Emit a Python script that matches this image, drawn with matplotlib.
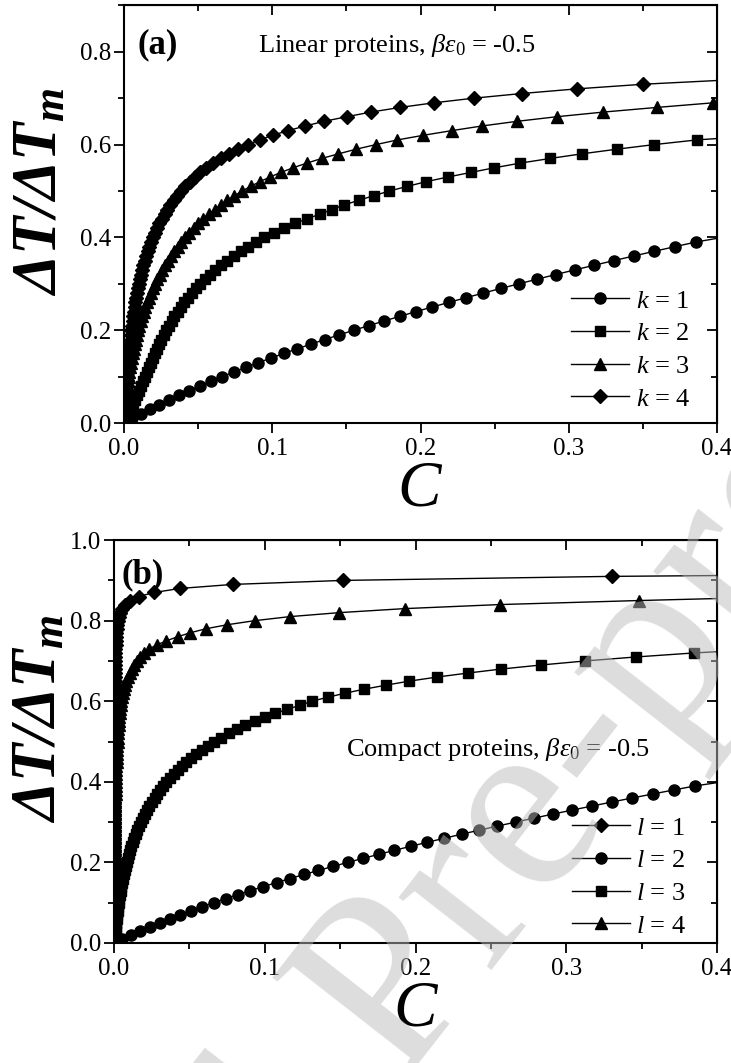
import matplotlib
matplotlib.use("Agg")
import matplotlib.pyplot as plt
from matplotlib.ticker import MultipleLocator, NullFormatter

plt.rcParams["font.family"] = "Liberation Serif"
plt.rcParams["mathtext.fontset"] = "custom"
plt.rcParams["mathtext.rm"] = "Liberation Serif"
plt.rcParams["mathtext.it"] = "Liberation Serif:italic"
plt.rcParams["mathtext.bf"] = "Liberation Serif:bold:italic"

# marker levels of dT/dTm (one marker every 0.01)
levels = [0.00, 0.01, 0.02, 0.03, 0.04, 0.05, 0.06, 0.07, 0.08, 0.09,
          0.10, 0.11, 0.12, 0.13, 0.14, 0.15, 0.16, 0.17, 0.18, 0.19,
          0.20, 0.21, 0.22, 0.23, 0.24, 0.25, 0.26, 0.27, 0.28, 0.29,
          0.30, 0.31, 0.32, 0.33, 0.34, 0.35, 0.36, 0.37, 0.38, 0.39,
          0.40, 0.41, 0.42, 0.43, 0.44, 0.45, 0.46, 0.47, 0.48, 0.49,
          0.50, 0.51, 0.52, 0.53, 0.54, 0.55, 0.56, 0.57, 0.58, 0.59,
          0.60, 0.61, 0.62, 0.63, 0.64, 0.65, 0.66, 0.67, 0.68, 0.69,
          0.70, 0.71, 0.72, 0.73, 0.74, 0.75, 0.76, 0.77, 0.78, 0.79,
          0.80, 0.81, 0.82, 0.83, 0.84, 0.85, 0.86, 0.87, 0.88, 0.89,
          0.90, 0.91]

# crowder concentration C at each marker, panel (a)
c_k1 = [0, 0.0056, 0.0115, 0.0175, 0.0238, 0.0303, 0.0371, 0.0440, 0.0512, 0.0586,
        0.0663, 0.0741, 0.0822, 0.0905, 0.0991, 0.1078, 0.1168, 0.1260, 0.1355, 0.1451,
        0.1550, 0.1651, 0.1755, 0.1860, 0.1968, 0.2078, 0.2191, 0.2305, 0.2422, 0.2541,
        0.2663, 0.2786, 0.2912, 0.3040, 0.3171, 0.3303, 0.3438, 0.3575, 0.3715, 0.3856]
c_k2 = [0, 0.0019, 0.0036, 0.0050, 0.0064, 0.0076, 0.0088, 0.0100, 0.0113, 0.0126,
        0.0139, 0.0152, 0.0166, 0.0180, 0.0194, 0.0208, 0.0222, 0.0237, 0.0253, 0.0268,
        0.0285, 0.0302, 0.0321, 0.0340, 0.0361, 0.0383, 0.0406, 0.0431, 0.0457, 0.0485,
        0.0515, 0.0546, 0.0580, 0.0615, 0.0652, 0.0694, 0.0739, 0.0786, 0.0836, 0.0890,
        0.0947, 0.1011, 0.1080, 0.1154, 0.1232, 0.1322, 0.1401, 0.1486, 0.1583, 0.1686,
        0.1790, 0.1911, 0.2037, 0.2183, 0.2339, 0.2498, 0.2671, 0.2873, 0.3087, 0.3323,
        0.3577, 0.3863]
c_k3 = [0, 0.0003, 0.0007, 0.0010, 0.0013, 0.0016, 0.0019, 0.0022, 0.0025, 0.0029,
        0.0033, 0.0037, 0.0042, 0.0047, 0.0053, 0.0059, 0.0065, 0.0072, 0.0080, 0.0087,
        0.0095, 0.0104, 0.0113, 0.0123, 0.0133, 0.0144, 0.0155, 0.0167, 0.0180, 0.0194,
        0.0209, 0.0224, 0.0240, 0.0258, 0.0276, 0.0295, 0.0316, 0.0338, 0.0361, 0.0386,
        0.0412, 0.0440, 0.0470, 0.0502, 0.0536, 0.0572, 0.0611, 0.0653, 0.0697, 0.0745,
        0.0798, 0.0854, 0.0916, 0.0984, 0.1058, 0.1141, 0.1232, 0.1333, 0.1446, 0.1565,
        0.1700, 0.1844, 0.2019, 0.2210, 0.2413, 0.2649, 0.2919, 0.3233, 0.3593, 0.3975]
c_k4 = [0, 0.0002, 0.0005, 0.0007, 0.0010, 0.0012, 0.0014, 0.0016, 0.0018, 0.0020,
        0.0022, 0.0024, 0.0027, 0.0029, 0.0032, 0.0034, 0.0037, 0.0040, 0.0044, 0.0047,
        0.0050, 0.0054, 0.0058, 0.0062, 0.0066, 0.0071, 0.0076, 0.0081, 0.0087, 0.0093,
        0.0099, 0.0106, 0.0114, 0.0122, 0.0130, 0.0139, 0.0149, 0.0160, 0.0171, 0.0183,
        0.0195, 0.0209, 0.0224, 0.0239, 0.0256, 0.0274, 0.0293, 0.0313, 0.0335, 0.0359,
        0.0384, 0.0412, 0.0443, 0.0477, 0.0514, 0.0555, 0.0602, 0.0653, 0.0708, 0.0768,
        0.0836, 0.0915, 0.1003, 0.1106, 0.1221, 0.1349, 0.1502, 0.1666, 0.1862, 0.2091,
        0.2361, 0.2683, 0.3054, 0.3503]

# panel (b)
c_l1 = [0, 0, 0, 0, 0, 0, 0, 0, 0, 0,
        0, 0, 0, 0, 0, 0.00001, 0.00001, 0.00001, 0.00001, 0.00001,
        0.00001, 0.00001, 0.00001, 0.00001, 0.00001, 0.00002, 0.00002, 0.00002, 0.00002, 0.00002,
        0.00003, 0.00003, 0.00003, 0.00003, 0.00004, 0.00004, 0.00004, 0.00005, 0.00005, 0.00006,
        0.00006, 0.00007, 0.00008, 0.00008, 0.00009, 0.00010, 0.00011, 0.00012, 0.00013, 0.00014,
        0.00015, 0.00016, 0.00018, 0.00019, 0.00021, 0.00023, 0.00025, 0.00027, 0.00029, 0.00031,
        0.00034, 0.00037, 0.00040, 0.00043, 0.00046, 0.00050, 0.00054, 0.00059, 0.00063, 0.00069,
        0.00074, 0.00081, 0.00088, 0.00097, 0.00108, 0.00121, 0.00137, 0.00156, 0.0018, 0.0021,
        0.0025, 0.0031, 0.0040, 0.0053, 0.0074, 0.0108, 0.0164, 0.0266, 0.0437, 0.0786,
        0.152, 0.330]
c_l2 = [0, 0.0056, 0.0115, 0.0175, 0.0238, 0.0303, 0.0371, 0.0440, 0.0512, 0.0586,
        0.0663, 0.0741, 0.0822, 0.0905, 0.0991, 0.1078, 0.1168, 0.1260, 0.1355, 0.1451,
        0.1550, 0.1651, 0.1755, 0.1860, 0.1968, 0.2078, 0.2191, 0.2305, 0.2422, 0.2541,
        0.2663, 0.2786, 0.2912, 0.3040, 0.3171, 0.3303, 0.3438, 0.3575, 0.3715, 0.3856]
c_l3 = [0, 0.0003, 0.0007, 0.0010, 0.0013, 0.0016, 0.0019, 0.0022, 0.0025, 0.0028,
        0.0031, 0.0035, 0.0039, 0.0043, 0.0048, 0.0053, 0.0059, 0.0064, 0.0070, 0.0077,
        0.0083, 0.0091, 0.0098, 0.0106, 0.0115, 0.0124, 0.0134, 0.0144, 0.0155, 0.0166,
        0.0179, 0.0192, 0.0205, 0.0220, 0.0235, 0.0252, 0.0269, 0.0287, 0.0306, 0.0326,
        0.0347, 0.0370, 0.0395, 0.0421, 0.0449, 0.0478, 0.0510, 0.0545, 0.0582, 0.0621,
        0.0664, 0.0710, 0.0760, 0.0813, 0.0870, 0.0932, 0.0998, 0.1070, 0.1148, 0.1234,
        0.1311, 0.1418, 0.1532, 0.1660, 0.1804, 0.1959, 0.2141, 0.2346, 0.2569, 0.2832,
        0.3124, 0.3463, 0.3850]
c_l4 = [0, 0.00001, 0.00001, 0.00002, 0.00003, 0.00003, 0.00004, 0.00005, 0.00006, 0.00007,
        0.00009, 0.00010, 0.00011, 0.00013, 0.00014, 0.00016, 0.00018, 0.00020, 0.00022, 0.00024,
        0.00026, 0.00029, 0.00032, 0.00035, 0.00038, 0.00041, 0.00045, 0.00048, 0.00052, 0.00057,
        0.00061, 0.00066, 0.00071, 0.00076, 0.00082, 0.00088, 0.00095, 0.00102, 0.00109, 0.00117,
        0.00125, 0.00134, 0.00143, 0.00153, 0.00163, 0.00174, 0.00186, 0.00199, 0.00212, 0.00226,
        0.00240, 0.00256, 0.00273, 0.00290, 0.00308, 0.00328, 0.0035, 0.0038, 0.0041, 0.0045,
        0.0049, 0.0054, 0.0060, 0.0066, 0.0073, 0.0082, 0.0092, 0.0103, 0.0116, 0.0131,
        0.0149, 0.0170, 0.0196, 0.0232, 0.0285, 0.0347, 0.0421, 0.0505, 0.0610, 0.0752,
        0.0932, 0.1164, 0.1495, 0.1929, 0.2557, 0.3480]

# where each guide line leaves the frame at C = 0.4
end_a = [0.398, 0.613, 0.690, 0.738]
end_b = [0.912, 0.398, 0.723, 0.855]

labels_a = ["$k$ = 1", "$k$ = 2", "$k$ = 3", "$k$ = 4"]
labels_b = ["$l$ = 1", "$l$ = 2", "$l$ = 3", "$l$ = 4"]

TICK_FS = 18
LEG_FS = 19


def style_axes(ax, ymax, ymajor, ylab_x, ylab_y):
    ax.set_xlim(0, 0.4)
    ax.set_ylim(0, ymax)
    ax.xaxis.set_major_locator(MultipleLocator(0.1))
    ax.xaxis.set_minor_locator(MultipleLocator(0.05))
    ax.yaxis.set_major_locator(MultipleLocator(ymajor))
    ax.yaxis.set_minor_locator(MultipleLocator(0.1))
    ax.tick_params(which="both", direction="out", width=1.3, labelsize=TICK_FS)
    ax.tick_params(axis="y", pad=2)
    ax.tick_params(which="major", length=7)
    ax.tick_params(which="minor", length=4)
    for sp in ax.spines.values():
        sp.set_linewidth(1.5)
    # mirrored ticks on top/right point inward
    top = ax.secondary_xaxis("top")
    top.xaxis.set_major_locator(MultipleLocator(0.1))
    top.xaxis.set_minor_locator(MultipleLocator(0.05))
    top.xaxis.set_major_formatter(NullFormatter())
    top.tick_params(which="both", direction="in", width=1.3)
    top.tick_params(which="major", length=7)
    top.tick_params(which="minor", length=4)
    right = ax.secondary_yaxis("right")
    right.yaxis.set_major_locator(MultipleLocator(ymajor))
    right.yaxis.set_minor_locator(MultipleLocator(0.1))
    right.yaxis.set_major_formatter(NullFormatter())
    right.tick_params(which="both", direction="in", width=1.3)
    right.tick_params(which="major", length=7)
    right.tick_params(which="minor", length=4)
    ax.set_xlabel("$C$", fontsize=47, labelpad=0)
    ax.set_ylabel(r"$\mathbf{\Delta T/\Delta T_m}$", fontsize=45)
    ax.yaxis.set_label_coords(ylab_x, ylab_y)


def draw_series(ax, xs, end_y, marker, ms, label):
    ys = levels[:len(xs)]
    ax.plot(xs + [0.4], ys + [end_y], color="black", lw=1.0, zorder=2)
    ax.plot(xs, ys, linestyle="none", marker=marker, ms=ms, mfc="black",
            mec="black", zorder=3)
    # legend proxy
    ax.plot([], [], color="black", lw=1.0, marker=marker, ms=ms, mfc="black",
            mec="black", label=label)


fig = plt.figure(figsize=(7.31, 10.63), dpi=100)
ax_a = fig.add_axes([0.1696, 0.602, 0.8114, 0.393])
ax_b = fig.add_axes([0.156, 0.1129, 0.825, 0.379])

markers_a = [("o", 8), ("s", 7), ("^", 8.5), ("D", 7.5)]
for xs, end_y, (m, ms), lab in zip([c_k1, c_k2, c_k3, c_k4], end_a, markers_a, labels_a):
    draw_series(ax_a, xs, end_y, m, ms, lab)
style_axes(ax_a, 0.9, 0.2, -0.09, 0.553)
ax_a.text(0.022, 0.905, "(a)", transform=ax_a.transAxes, fontsize=25,
          fontweight="bold", va="center")
ax_a.text(0.226, 0.905, r"Linear proteins, $\mathit{\beta\varepsilon_{0}}$ = -0.5",
          transform=ax_a.transAxes, fontsize=19, va="center")
ax_a.legend(loc="lower left", bbox_to_anchor=(0.745, 0.017), frameon=False,
            fontsize=LEG_FS, handlelength=2.2, handletextpad=0.25,
            labelspacing=0.35, borderpad=0.2, borderaxespad=0.0)

markers_b = [("D", 7.5), ("o", 8), ("s", 7), ("^", 8.5)]
for xs, end_y, (m, ms), lab in zip([c_l1, c_l2, c_l3, c_l4], end_b, markers_b, labels_b):
    draw_series(ax_b, xs, end_y, m, ms, lab)
style_axes(ax_b, 1.0, 0.2, -0.075, 0.556)
ax_b.text(0.013, 0.915, "(b)", transform=ax_b.transAxes, fontsize=25,
          fontweight="bold", va="center")
ax_b.text(0.385, 0.48, r"Compact proteins, $\mathit{\beta\varepsilon_{0}}$ = -0.5",
          transform=ax_b.transAxes, fontsize=19, va="center")
ax_b.legend(loc="lower left", bbox_to_anchor=(0.75, 0.0), frameon=False,
            fontsize=LEG_FS, handlelength=2.2, handletextpad=0.25,
            labelspacing=0.35, borderpad=0.2, borderaxespad=0.0)

# journal watermark running diagonally across panel (b)
fig.text(0.55, 0.075, "Journal Pre-proof", rotation=52, fontsize=185,
         color="#bbbbbb", alpha=0.5, ha="center", va="center", zorder=10)

fig.savefig("out.png", dpi=100)
